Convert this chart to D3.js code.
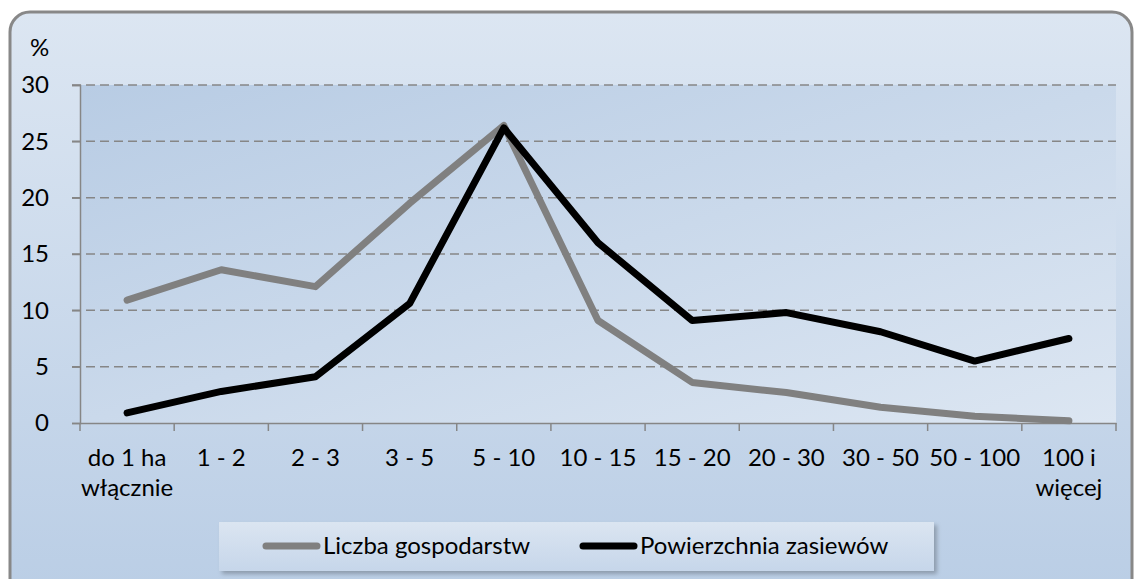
<!DOCTYPE html>
<html>
<head>
<meta charset="utf-8">
<script src="https://cdn.jsdelivr.net/npm/d3@7"></script>
<style>
  body { margin: 0; background: #fff; }
  svg { display: block; font-family: Lato, "Open Sans", sans-serif; }
</style>
</head>
<body>
<div id="chart"></div>
<script>
// categories (farm size groups)
var categories = ["do 1 ha\nwłącznie", "1 - 2", "2 - 3", "3 - 5", "5 - 10", "10 - 15",
                  "15 - 20", "20 - 30", "30 - 50", "50 - 100", "100 i\nwięcej"];
var liczbaGospodarstw = [10.9, 13.6, 12.1, 19.5, 26.4, 9.1, 3.6, 2.7, 1.4, 0.6, 0.2];
var powierzchniaZasiewow = [0.9, 2.8, 4.1, 10.6, 26.2, 16.0, 9.1, 9.8, 8.1, 5.5, 7.5];
var yTicks = [0, 5, 10, 15, 20, 25, 30];
var seriesNames = ["Liczba gospodarstw", "Powierzchnia zasiewów"];

var width = 1134, height = 579;
var margin = {left: 80, right: 18, top: 85, bottom: 156};
var fontSize = 24;

var svg = d3.select("#chart").append("svg")
  .attr("width", width)
  .attr("height", height);

var defs = svg.append("defs");
var bgGrad = defs.append("linearGradient").attr("id", "bgGrad")
  .attr("x1", 0).attr("y1", 0).attr("x2", 0).attr("y2", 1);
bgGrad.append("stop").attr("offset", "0%").attr("stop-color", "#dce6f2");
bgGrad.append("stop").attr("offset", "100%").attr("stop-color", "#b9cde5");

var plotGrad = defs.append("linearGradient").attr("id", "plotGrad")
  .attr("x1", 0).attr("y1", 0).attr("x2", 1).attr("y2", 1);
plotGrad.append("stop").attr("offset", "0%").attr("stop-color", "#b8cce4");
plotGrad.append("stop").attr("offset", "100%").attr("stop-color", "#dce6f2");

var legGrad = defs.append("linearGradient").attr("id", "legGrad")
  .attr("x1", 0).attr("y1", 0).attr("x2", 0).attr("y2", 1);
legGrad.append("stop").attr("offset", "0%").attr("stop-color", "#dbe5f1");
legGrad.append("stop").attr("offset", "100%").attr("stop-color", "#c6d6ea");

var shadow = defs.append("filter").attr("id", "shadow")
  .attr("x", "-5%").attr("y", "-20%").attr("width", "115%").attr("height", "160%");
shadow.append("feDropShadow").attr("dx", 3).attr("dy", 3).attr("stdDeviation", 2)
  .attr("flood-color", "#000").attr("flood-opacity", 0.25);

// chart background
svg.append("rect")
  .attr("x", 10).attr("y", 12)
  .attr("width", 1122).attr("height", 600)
  .attr("rx", 20).attr("ry", 20)
  .attr("fill", "url(#bgGrad)")
  .attr("stroke", "#888").attr("stroke-width", 3);

var x = d3.scaleBand().domain(categories)
  .range([margin.left, width - margin.right]).padding(0);
var y = d3.scaleLinear().domain([0, 30])
  .range([height - margin.bottom, margin.top]);

// plot area
svg.append("rect")
  .attr("x", margin.left).attr("y", y(30))
  .attr("width", x.range()[1] - margin.left)
  .attr("height", y(0) - y(30))
  .attr("fill", "url(#plotGrad)");

// gridlines
svg.append("g").selectAll("line").data(yTicks.filter(function(d) { return d > 0; }))
  .enter().append("line")
  .attr("x1", margin.left - 8).attr("x2", x.range()[1])
  .attr("y1", function(d) { return y(d); }).attr("y2", function(d) { return y(d); })
  .attr("stroke", "#868686").attr("stroke-width", 1.5)
  .attr("stroke-dasharray", "9,5");

// y axis
var yAxis = svg.append("g")
  .attr("transform", "translate(" + margin.left + ",0)")
  .call(d3.axisLeft(y).tickValues(yTicks).tickSize(8).tickPadding(23));
yAxis.attr("font-family", null).attr("font-size", null);
yAxis.select(".domain").attr("stroke", "#868686").attr("stroke-width", 1.5);
yAxis.selectAll(".tick line").attr("stroke", "#868686").attr("stroke-width", 1.5);
yAxis.selectAll("text").attr("font-size", fontSize).attr("fill", "#000");

// x axis
var xAxis = svg.append("g")
  .attr("transform", "translate(0," + y(0) + ")")
  .call(d3.axisBottom(x).tickSize(0).tickFormat(""));
xAxis.select(".domain").attr("stroke", "#868686").attr("stroke-width", 1.5);
var bounds = categories.map(function(c) { return x(c); }).concat([x.range()[1]]);
xAxis.selectAll(".bound").data(bounds).enter().append("line")
  .attr("x1", function(d) { return d; }).attr("x2", function(d) { return d; })
  .attr("y1", 0).attr("y2", 8)
  .attr("stroke", "#868686").attr("stroke-width", 1.5);

var xLabels = svg.append("g").selectAll("text").data(categories).enter().append("text")
  .attr("text-anchor", "middle")
  .attr("font-size", fontSize)
  .attr("fill", "#000")
  .attr("x", function(d) { return x(d) + x.bandwidth() / 2; })
  .attr("y", y(0) + 43);
xLabels.each(function(d) {
  var lines = d.split("\n");
  var t = d3.select(this);
  lines.forEach(function(l, i) {
    t.append("tspan").attr("x", t.attr("x")).attr("dy", i === 0 ? 0 : 30).text(l);
  });
});

// % unit label
svg.append("text").attr("x", 30).attr("y", 56)
  .attr("font-size", fontSize).attr("fill", "#000").text("%");

// lines
var line = d3.line()
  .x(function(d, i) { return x(categories[i]) + x.bandwidth() / 2; })
  .y(function(d) { return y(d); });

svg.append("path").datum(liczbaGospodarstw)
  .attr("d", line).attr("fill", "none")
  .attr("stroke", "#808080").attr("stroke-width", 7)
  .attr("stroke-linejoin", "round").attr("stroke-linecap", "round");

svg.append("path").datum(powierzchniaZasiewow)
  .attr("d", line).attr("fill", "none")
  .attr("stroke", "#000").attr("stroke-width", 7)
  .attr("stroke-linejoin", "round").attr("stroke-linecap", "round");

// legend
var legend = svg.append("g");
legend.append("rect")
  .attr("x", 219).attr("y", 522).attr("width", 715).attr("height", 49)
  .attr("fill", "url(#legGrad)").attr("filter", "url(#shadow)");

var legItems = [
  {name: seriesNames[0], color: "#808080", x: 266},
  {name: seriesNames[1], color: "#000", x: 583}
];
var li = legend.selectAll(".li").data(legItems).enter().append("g");
li.append("line")
  .attr("x1", function(d) { return d.x; }).attr("x2", function(d) { return d.x + 51; })
  .attr("y1", 546).attr("y2", 546)
  .attr("stroke", function(d) { return d.color; })
  .attr("stroke-width", 7).attr("stroke-linecap", "round");
li.append("text")
  .attr("x", function(d) { return d.x + 57; }).attr("y", 554)
  .attr("font-size", fontSize).attr("fill", "#000")
  .text(function(d) { return d.name; });
</script>
</body>
</html>
